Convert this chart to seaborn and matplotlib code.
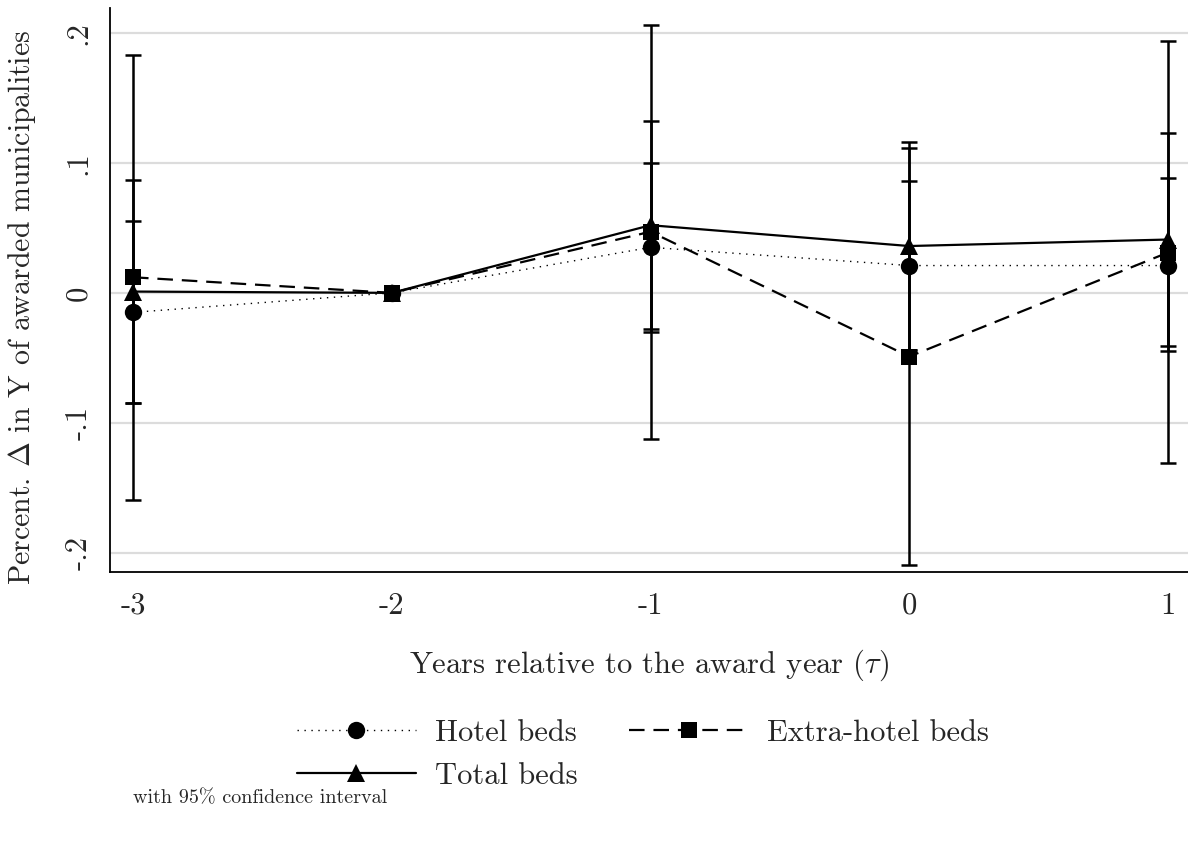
import matplotlib
matplotlib.use("Agg")
import matplotlib.pyplot as plt
from matplotlib.lines import Line2D
import numpy as np
import pandas as pd
import seaborn as sns

# Event-study estimates (relative to the award year), reference year tau = -2
tau = [-3, -2, -1, 0, 1]

hotel = [-0.015, 0.0, 0.035, 0.021, 0.021]
hotel_lo = [-0.085, 0.0, -0.030, -0.044, -0.045]
hotel_hi = [0.055, 0.0, 0.100, 0.086, 0.088]

extra = [0.012, 0.0, 0.047, -0.049, 0.031]
extra_lo = [-0.159, 0.0, -0.112, -0.209, -0.131]
extra_hi = [0.183, 0.0, 0.206, 0.111, 0.194]

total = [0.001, 0.0, 0.052, 0.036, 0.041]
total_lo = [-0.085, 0.0, -0.028, -0.044, -0.041]
total_hi = [0.087, 0.0, 0.132, 0.116, 0.123]

series_names = ["Hotel beds", "Extra-hotel beds", "Total beds"]
yticks = [-0.2, -0.1, 0.0, 0.1, 0.2]
ytick_labels = ["-.2", "-.1", "0", ".1", ".2"]
xtick_labels = ["-3", "-2", "-1", "0", "1"]

sns.set_style("white")
plt.rcParams["font.family"] = ["cmr10"]
plt.rcParams["mathtext.fontset"] = "cm"
plt.rcParams["axes.unicode_minus"] = False
plt.rcParams["axes.formatter.use_mathtext"] = True

FS = 22

fig = plt.figure(figsize=(11.88, 8.44), dpi=100)
ax = fig.add_axes([110 / 1188, 1 - 572 / 844, 1 - 110 / 1188, (572 - 8) / 844])

df = pd.DataFrame({
    "tau": tau * 3,
    "est": hotel + extra + total,
    "lo": hotel_lo + extra_lo + total_lo,
    "hi": hotel_hi + extra_hi + total_hi,
    "series": sum([[n] * len(tau) for n in series_names], []),
})

styles = {
    "Hotel beds": dict(ls=(0, (1.0, 4.0)), lw=1.0, marker="o", ms=12.5),
    "Extra-hotel beds": dict(ls=(0, (7, 4)), lw=1.6, marker="s", ms=11.5),
    "Total beds": dict(ls="-", lw=1.6, marker="^", ms=12.5),
}

# Confidence intervals
for name in series_names:
    d = df[df["series"] == name]
    ax.errorbar(d["tau"], d["est"],
                yerr=[d["est"] - d["lo"], d["hi"] - d["est"]],
                fmt="none", ecolor="black", elinewidth=1.8,
                capsize=6, capthick=1.8, zorder=3)

# Point estimates
handles = {}
for name in series_names:
    d = df[df["series"] == name]
    st = styles[name]
    sns.lineplot(data=d, x="tau", y="est", ax=ax, color="black",
                 linestyle=st["ls"], linewidth=st["lw"], marker=st["marker"],
                 markersize=st["ms"], markeredgewidth=0, zorder=4,
                 errorbar=None, legend=False)
    handles[name] = Line2D([0], [0], color="black", linestyle=st["ls"],
                           linewidth=st["lw"], marker=st["marker"],
                           markersize=st["ms"], markeredgewidth=0)

ax.set_xlim(-3 - 23 / 258.75, 1 + 20 / 258.75)
ax.set_ylim(-0.2146, 0.219)

ax.set_yticks(yticks)
ax.set_yticklabels(ytick_labels, rotation=90, va="center")
ax.set_xticks(tau)
ax.set_xticklabels(xtick_labels)
ax.tick_params(axis="both", direction="out", length=7.5, width=1.2,
               labelsize=FS, color="black", pad=5)
ax.tick_params(axis="x", pad=7)

ax.yaxis.grid(True, color="#dcdcdc", linewidth=1.6)
ax.xaxis.grid(False)
ax.set_axisbelow(True)

for side in ["top", "right"]:
    ax.spines[side].set_visible(False)
for side in ["left", "bottom"]:
    ax.spines[side].set_color("black")
    ax.spines[side].set_linewidth(1.3)

ax.set_xlabel(r"Years relative to the award year ($\tau$)", fontsize=FS, labelpad=20)
ax.set_ylabel(r"Percent. $\Delta$ in Y of awarded municipalities", fontsize=21.5)
ax.yaxis.set_label_coords(-(110 - 22) / 1078, (572 - 307) / 564)
ax.yaxis.label.set_va("center")

# two-column legend filled column-wise: Hotel / Total in the first column
order = ["Hotel beds", "Total beds", "Extra-hotel beds"]
fig.legend([handles[n] for n in order], order, loc="center", ncol=2,
           bbox_to_anchor=(643 / 1188, 1 - 754.5 / 844), frameon=False,
           fontsize=FS, handlelength=3.9, handletextpad=0.62,
           columnspacing=1.7, labelspacing=0.5)

fig.text(133 / 1188, 1 - 798 / 844, "with 95% confidence interval",
         fontsize=14.5, va="center", ha="left")

fig.savefig("out.png", dpi=100, facecolor="white")
